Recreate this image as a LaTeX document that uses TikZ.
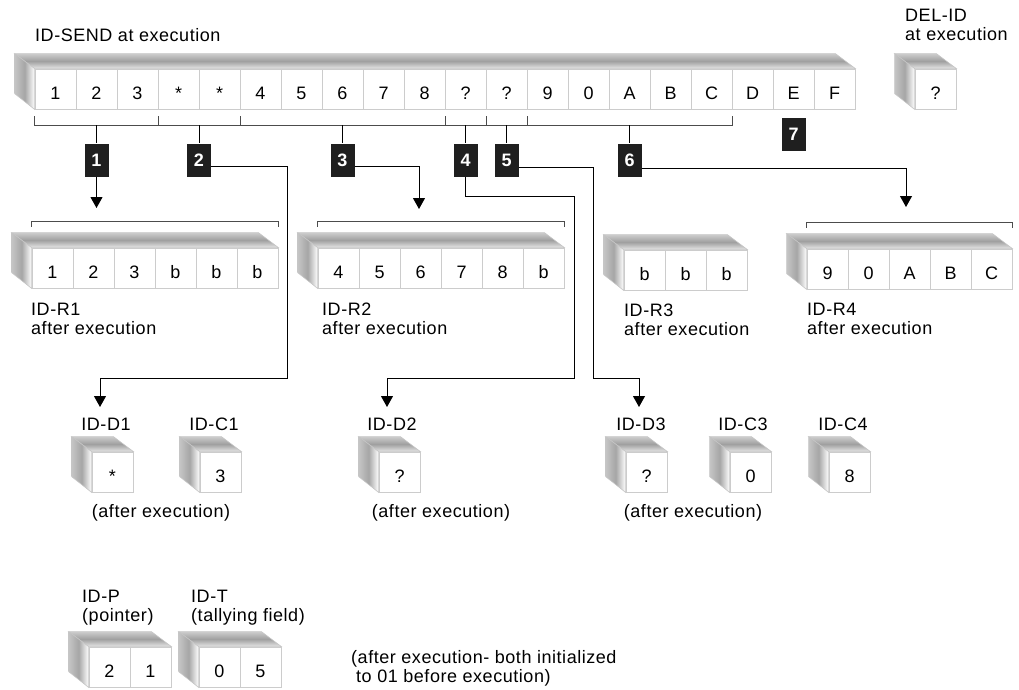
\documentclass[tikz,border=0pt]{standalone}
\usepackage{fontspec}
\setmainfont{Liberation Sans}[LetterSpace=3]
\usetikzlibrary{positioning,calc,arrows.meta}

% one register: name, x, y of the front face, cell contents
\newcommand{\regbox}[4]{%
  \foreach \val [count=\i] in {#4} {
    \node[cell] (#1-\i) at ({#2+(\i-0.5)*41},{#3+20}) {\val};
    \xdef\lastcell{\i}
  }
  \path[topface] (#1-1.north west) -- ++(-20,-15) -- ($(#1-\lastcell.north east)+(-20,-15)$) -- (#1-\lastcell.north east) -- cycle;
  \path[sideface] (#1-1.north west) -- ++(-20,-15) -- ++(0,40) -- (#1-1.south west) -- cycle;
}

\begin{document}
\begin{tikzpicture}[x=1pt, y=-1pt,
  every node/.style={font=\fontsize{18}{19}\selectfont, inner sep=0pt},
  cell/.style={draw=gray!40, line width=0.8pt, fill=white, minimum width=41pt, minimum height=40pt, text height=20.5pt, text depth=0pt},
  topface/.style={draw=gray!45, line width=0.6pt, top color=gray!40, bottom color=gray!20, middle color=gray!75},
  sideface/.style={draw=gray!45, line width=0.6pt, left color=gray!45, right color=white, middle color=gray!70},
  badge/.style={fill=black!88, text=white, font=\fontsize{18}{19}\selectfont\bfseries, minimum width=24pt, minimum height=33pt},
  lbl/.style={align=left},
  brk/.style={draw=black!70, line width=0.8pt},
  link/.style={draw=black, line width=1pt},
  arr/.style={link, -{Triangle[width=12pt,length=11pt]}},
]
\useasboundingbox (0,0) rectangle (1019,690);

% Source field and delimiter
\node[anchor=base west] (lsend) at (35,42) {ID-SEND at execution};
\node[lbl, anchor=north west] (ldel) at (905,9) {DEL-ID\\at execution};
\regbox{send}{35}{69}{1,2,3,*,*,4,5,6,7,8,?,?,9,0,A,B,C,D,E,F}
\regbox{del}{915}{69}{?}

% Receiving fields
\regbox{r1}{32}{248}{1,2,3,b,b,b}
\regbox{r2}{318}{248}{4,5,6,7,8,b}
\regbox{r3}{624}{250}{b,b,b}
\regbox{r4}{807}{249}{9,0,A,B,C}
\node[lbl, anchor=north west] (lR1) at (31,303) {ID-R1\\after execution};
\node[lbl, anchor=north west] (lR2) at (322,303) {ID-R2\\after execution};
\node[lbl, anchor=north west] (lR3) at (624,304) {ID-R3\\after execution};
\node[lbl, anchor=north west] (lR4) at (807,303) {ID-R4\\after execution};

% Delimiter and count fields
\regbox{d1}{92}{452}{*}
\regbox{c1}{200}{452}{3}
\regbox{d2}{379}{452}{?}
\regbox{d3}{626}{452}{?}
\regbox{c3}{730}{452}{0}
\regbox{c4}{829}{452}{8}
\node[anchor=north] (lD1) at (106,418) {ID-D1};
\node[anchor=north] (lC1) at (214,418) {ID-C1};
\node[anchor=north] (lD2) at (392,418) {ID-D2};
\node[anchor=north] (lD3) at (641,418) {ID-D3};
\node[anchor=north] (lC3) at (743,418) {ID-C3};
\node[anchor=north] (lC4) at (843,418) {ID-C4};
\node[anchor=base] (la1) at (161,517) {(after execution)};
\node[anchor=base] (la2) at (441,517) {(after execution)};
\node[anchor=base] (la3) at (693,517) {(after execution)};

% Pointer and tallying fields
\regbox{p}{89}{647}{2,1}
\regbox{t}{199}{647}{0,5}
\node[lbl, anchor=north west] (lP) at (82,590) {ID-P\\(pointer)};
\node[lbl, anchor=north west] (lT) at (191,590) {ID-T\\(tallying field)};
\node[lbl, anchor=north west] (lnote) at (351,650) {(after execution- both initialized\\\hspace*{5pt}to 01 before execution)};

% Brackets under the source field
\draw[brk] ($(send-1.south west)+(0,7)$) -- ++(0,9) -- ($(send-17.south east)+(0,16)$) -- ++(0,-9);
\foreach \c in {3,5,10,11,12}
  \draw[brk] ($(send-\c.south east)+(0,7)$) -- ++(0,9);
% Brackets over the receiving fields
\foreach \r/\last in {r1/6, r2/6, r4/5}
  \draw[brk] ($(\r-1.north west)+(0,-21)$) -- ++(0,-5) -- ($(\r-\last.north east)+(0,-26)$) -- ++(0,5);

% Numbered steps
\coordinate (b1) at ($(send-1.south west)!0.5!(send-3.south east)+(0,16)$);
\coordinate (b2) at ($(send-4.south west)!0.5!(send-5.south east)+(0,16)$);
\coordinate (b3) at ($(send-6.south west)!0.5!(send-10.south east)+(0,16)$);
\coordinate (b4) at ($(send-11.south west)!0.5!(send-11.south east)+(0,16)$);
\coordinate (b5) at ($(send-12.south west)!0.5!(send-12.south east)+(0,16)$);
\coordinate (b6) at ($(send-13.south west)!0.5!(send-17.south east)+(0,16)$);
\foreach \k in {1,...,6} {
  \node[badge, below=18pt of b\k] (n\k) {\k};
  \draw[link] (b\k) -- (n\k);
}
\node[badge, below=8pt of send-19] (n7) {7};

% Moves
\coordinate (t1) at (n1 |- 0,208);
\draw[arr] (n1) -- (t1);
\coordinate (k2) at (287,378);
\draw[arr] ($(n2.east)+(0,6)$) -| (k2) -| ($(lD1.north)+(-6,-11)$);
\coordinate (t3) at (419,209);
\draw[arr] ($(n3.east)+(0,6)$) -| (t3);
\coordinate (k4a) at (574,196);
\coordinate (k4b) at (574,378);
\draw[arr] (n4.south) |- (k4a) -- (k4b) -| ($(lD2.north)+(-5,-11)$);
\coordinate (k5) at (593,378);
\draw[arr] ($(n5.east)+(0,7)$) -| (k5) -| ($(lD3.north)+(-2,-11)$);
\coordinate (t6) at (906,207);
\draw[arr] ($(n6.east)+(0,8)$) -| (t6);

\end{tikzpicture}
\end{document}
